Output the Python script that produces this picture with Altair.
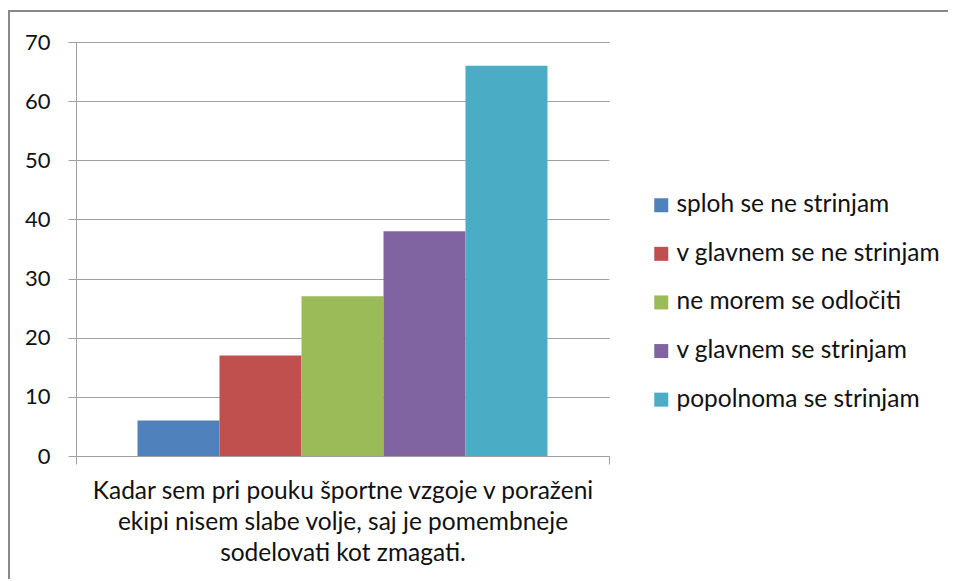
import altair as alt
import pandas as pd

# --- data ---
series = [
    "sploh se ne strinjam",
    "v glavnem se ne strinjam",
    "ne morem se odločiti",
    "v glavnem se strinjam",
    "popolnoma se strinjam",
]
values = [6, 17, 27, 38, 66]
category = "Kadar sem pri pouku športne vzgoje v poraženi ekipi nisem slabe volje, saj je pomembneje sodelovati kot zmagati."
category_lines = [
    "Kadar sem pri pouku športne vzgoje v poraženi",
    "ekipi nisem slabe volje, saj je pomembneje",
    "sodelovati kot zmagati.",
]
y_ticks = [0, 10, 20, 30, 40, 50, 60, 70]
colors = ["#4F81BD", "#C0504D", "#9BBB59", "#8064A2", "#4BACC6"]

df = pd.DataFrame({"kategorija": [category] * len(series), "serija": series, "vrednost": values})

FONT = "Lato"
GRID = "#a0a0a0"
TEXT = "#111111"

bars = alt.Chart(df).mark_bar().encode(
    x=alt.X(
        "kategorija:N",
        scale=alt.Scale(paddingInner=0, paddingOuter=0),
        axis=alt.Axis(
            title=category_lines,
            labels=False,
            tickBand="extent",
            tickSize=8,
            tickColor=GRID,
            domainColor=GRID,
            titleFont=FONT,
            titleFontSize=24.5,
            titleFontWeight="normal",
            titleColor=TEXT,
            titleLineHeight=31,
            titlePadding=15,
        ),
    ),
    xOffset=alt.XOffset(
        "serija:N", sort=series, scale=alt.Scale(paddingInner=0, paddingOuter=0.75)
    ),
    y=alt.Y(
        "vrednost:Q",
        scale=alt.Scale(domain=[0, 70], nice=False),
        axis=alt.Axis(
            values=y_ticks,
            title=None,
            grid=True,
            gridColor=GRID,
            tickColor=GRID,
            tickSize=8,
            domainColor=GRID,
            labelFont=FONT,
            labelFontSize=22,
            labelColor=TEXT,
            labelPadding=18,
        ),
    ),
    color=alt.Color(
        "serija:N",
        sort=series,
        scale=alt.Scale(domain=series, range=colors),
        legend=alt.Legend(
            title=None,
            orient="none",
            legendX=573,
            legendY=151,
            padding=0,
            symbolType="square",
            symbolSize=196,
            symbolStrokeWidth=0,
            symbolOpacity=1,
            labelFont=FONT,
            labelFontSize=24.5,
            labelColor=TEXT,
            labelLimit=400,
            labelOffset=3,
            rowPadding=23.6,
        ),
    ),
)

border = alt.Chart(pd.DataFrame({"b": [0]})).mark_rect(
    filled=False, stroke="#888888", strokeWidth=2
).encode(
    x=alt.value(-67),
    x2=alt.value(900),
    y=alt.value(-31),
    y2=alt.value(600),
)

chart = alt.layer(border, bars).properties(
    width=533,
    height=414,
    autosize=alt.AutoSizeParams(type="none"),
    padding={"left": 68, "top": 34, "right": 339, "bottom": 123},
).configure_view(stroke=None)

chart.save("out.html", embed_options={"renderer": "svg", "actions": False})
